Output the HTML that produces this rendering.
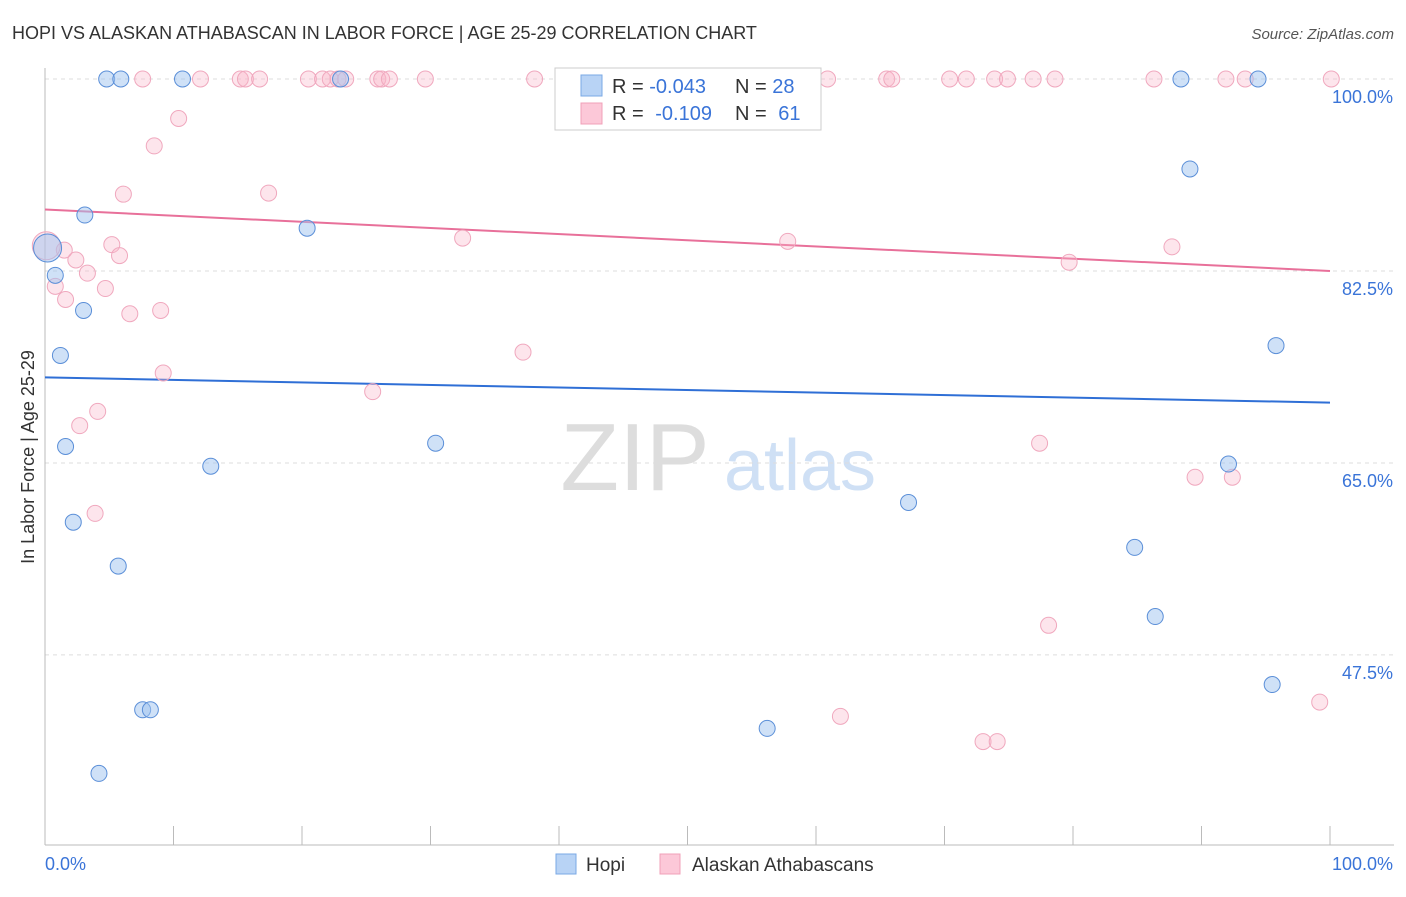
<!DOCTYPE html>
<html><head><meta charset="utf-8"><style>
body{margin:0;background:#fff;font-family:"Liberation Sans",sans-serif;}
svg text{font-family:"Liberation Sans",sans-serif;}
</style></head><body>
<svg id="chart" width="1406" height="892">
<text x="12" y="39" font-size="18" fill="#333">HOPI VS ALASKAN ATHABASCAN IN LABOR FORCE | AGE 25-29 CORRELATION CHART</text>
<text x="1394" y="39" font-size="15" fill="#555" font-style="italic" text-anchor="end">Source: ZipAtlas.com</text>
<text x="34" y="457" font-size="18" fill="#333" text-anchor="middle" transform="rotate(-90 34 457)">In Labor Force | Age 25-29</text>
<g>
<text x="635" y="490" font-size="96" fill="#ddd" font-family="Liberation Serif" text-anchor="middle">ZIP</text>
<text x="800" y="490" font-size="72" fill="#cfe0f5" text-anchor="middle">atlas</text>
</g>
<g id="grid"></g><g id="axes"></g><g id="lines"></g><g id="pts"></g>
<g>
<rect x="555" y="68" width="266" height="62" fill="#fff" stroke="#ccc"/>
<rect x="581" y="75" width="21" height="21" fill="#b8d3f5" stroke="#7aa8e5"/>
<rect x="581" y="103" width="21" height="21" fill="#fcc8d8" stroke="#f0a0b8"/>
<text x="612" y="93" font-size="20" fill="#333">R = <tspan fill="#3a74d8">-0.043</tspan></text>
<text x="735" y="93" font-size="20" fill="#333">N = <tspan fill="#3a74d8">28</tspan></text>
<text x="612" y="120" font-size="20" fill="#333">R = <tspan fill="#3a74d8" dx="6">-0.109</tspan></text>
<text x="735" y="120" font-size="20" fill="#333">N = <tspan fill="#3a74d8" dx="6">61</tspan></text>
</g>
<g>
<rect x="556" y="854" width="20" height="20" fill="#b8d3f5" stroke="#7aa8e5"/>
<text x="586" y="871" font-size="19" fill="#333">Hopi</text>
<rect x="660" y="854" width="20" height="20" fill="#fcc8d8" stroke="#f0a0b8"/>
<text x="692" y="871" font-size="19" fill="#333">Alaskan Athabascans</text>
</g>
</svg>
<script>
const yTicks=[100,82.5,65,47.5];
const yTickLabels=["100.0%","82.5%","65.0%","47.5%"];
const hopiX=[4.8,5.9,10.7,23.0,88.4,94.4,89.1,3.1,20.4,0.2,0.8,3.0,1.2,95.8,1.6,30.4,12.9,92.1,67.2,2.2,5.7,84.8,86.4,7.6,8.2,95.5,56.2,4.2];
const hopiY=[100,100,100,100,100,100,91.8,87.6,86.4,84.6,82.1,78.9,74.8,75.7,66.5,66.8,64.7,64.9,61.4,59.6,55.6,57.3,51.0,42.5,42.5,44.8,40.8,36.7];
const akX=[7.6,12.1,15.2,15.6,16.7,20.5,21.6,22.2,22.8,23.4,25.9,26.2,26.8,29.6,38.1,50.0,53.0,60.9,65.5,65.9,70.4,71.7,73.9,74.9,76.9,78.6,86.3,91.9,93.4,100.1,
 10.4,8.5,6.1,17.4,5.2,1.5,5.8,2.4,3.3,0.8,4.7,1.6,6.6,9.0,32.5,57.8,87.7,79.7,37.2,9.2,25.5,4.1,2.7,77.4,89.5,92.4,3.9,78.1,61.9,99.2,73.0,74.1,0.1];
const akY=[100,100,100,100,100,100,100,100,100,100,100,100,100,100,100,100,100,100,100,100,100,100,100,100,100,100,100,100,100,100,
 96.4,93.9,89.5,89.6,84.9,84.4,83.9,83.5,82.3,81.1,80.9,79.9,78.6,78.9,85.5,85.2,84.7,83.3,75.1,73.2,71.5,69.7,68.4,66.8,63.7,63.7,60.4,50.2,41.9,43.2,39.6,39.6,84.8];
const hopiTrend=[72.8,70.5];
const akTrend=[88.1,82.5];
const NS="http://www.w3.org/2000/svg";
const X=v=>45+v*12.85, Y=v=>79+(100-v)*10.97;
function mk(t,a,p){const e=document.createElementNS(NS,t);for(const k in a)e.setAttribute(k,a[k]);p.appendChild(e);return e;}
const grid=document.getElementById('grid'),axes=document.getElementById('axes'),lines=document.getElementById('lines'),pts=document.getElementById('pts');
yTicks.forEach((t,i)=>{
 const l=mk('line',{x1:45,x2:1394,y1:Y(t),y2:Y(t),stroke:'#ddd','stroke-dasharray':'4,4'},grid);
 
 
 const tx=mk('text',{x:1393,y:Y(t)+24,'font-size':18,fill:'#3a74d8','text-anchor':'end'},grid);
 tx.textContent=yTickLabels[i];
 
 
});
mk('line',{x1:45,x2:45,y1:68,y2:845,stroke:'#bbb'},axes);
mk('line',{x1:45,x2:1394,y1:845,y2:845,stroke:'#bbb'},axes);
for(let i=0;i<=10;i++){const t=mk('line',{x1:X(i*10),x2:X(i*10),y1:826,y2:845,stroke:'#bbb'},axes);
 
 }
const xl0=mk('text',{x:45,y:870,'font-size':18,fill:'#3a74d8'},axes);xl0.textContent='0.0%';


const xl1=mk('text',{x:1393,y:870,'font-size':18,fill:'#3a74d8','text-anchor':'end'},axes);xl1.textContent='100.0%';


function dots(xs,ys,fill,stroke,name){xs.forEach((x,i)=>{const big=x<0.3;
 const c=mk('circle',{cx:X(x),cy:Y(ys[i]),r:big?14:8,fill:fill,stroke:stroke,'stroke-width':1},pts);
 
 });}
dots(akX,akY,'rgba(248,180,200,0.35)','#f0a8be','alaskan-point');
dots(hopiX,hopiY,'rgba(160,195,240,0.5)','#5b8fd8','hopi-point');
const hl=mk('line',{x1:X(0),x2:X(100),y1:Y(hopiTrend[0]),y2:Y(hopiTrend[1]),stroke:'#2f6fd6','stroke-width':2},lines);


const al=mk('line',{x1:X(0),x2:X(100),y1:Y(akTrend[0]),y2:Y(akTrend[1]),stroke:'#e8709a','stroke-width':2},lines);


</script>
</body></html>
